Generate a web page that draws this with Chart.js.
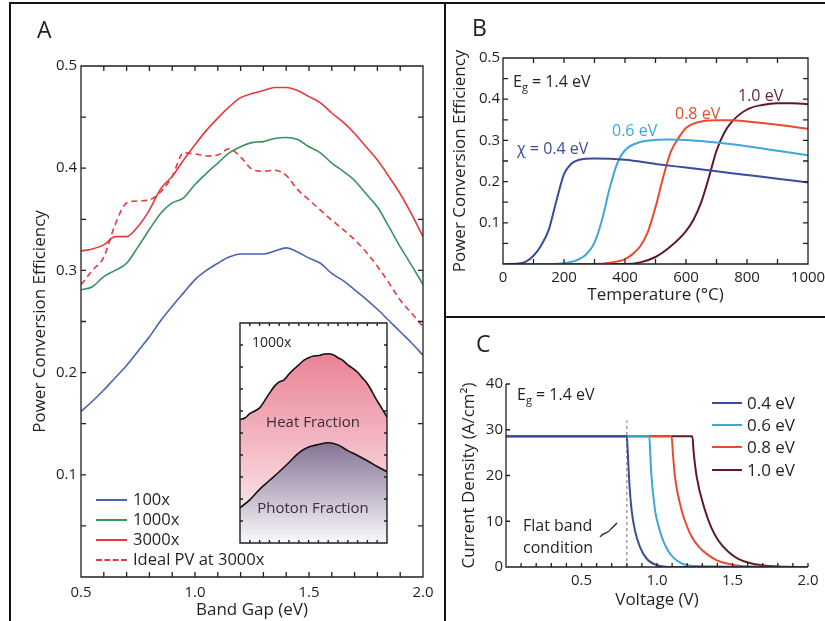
<!DOCTYPE html>
<html>
<head>
<meta charset="utf-8">
<script src="https://cdn.jsdelivr.net/npm/chart.js@4.4.1/dist/chart.umd.min.js"></script>
<style>
  body { margin: 0; background: #fff; }
  #fig { position: relative; width: 825px; height: 621px; overflow: hidden; background: #fff;
         font-family: "Open Sans", sans-serif; color: #231f20; }
  canvas { position: absolute; }
  .ln { position: absolute; background: #111; }
  .txt { position: absolute; white-space: nowrap; line-height: 1; font-size: 15px; }
  .letter { position: absolute; line-height: 1; font-size: 23px; }
  .key { position: absolute; height: 0; border-top: 2px solid; }
  sub { font-size: 11px; vertical-align: -4px; line-height: 0; }
</style>
</head>
<body>
<div id="fig">
  <canvas id="chartA" width="445" height="621" style="left:0;top:0"></canvas>
  <canvas id="inset" width="151" height="224" style="left:238px;top:321px;background:#fff"></canvas>
  <canvas id="chartB" width="400" height="317" style="left:445px;top:0"></canvas>
  <canvas id="chartC" width="400" height="303" style="left:445px;top:318px"></canvas>

  <div class="ln" style="left:10px;top:2px;width:815px;height:2px"></div>
  <div class="ln" style="left:9px;top:2px;width:2px;height:619px"></div>
  <div class="ln" style="left:444px;top:2px;width:2px;height:619px"></div>
  <div class="ln" style="left:444px;top:316px;width:381px;height:2px"></div>

  <div class="letter" style="left:37px;top:18px">A</div>
  <div class="letter" style="left:472px;top:16px">B</div>
  <div class="letter" style="left:476px;top:332px">C</div>

  <!-- panel A legend -->
  <div class="key" style="left:96px;top:499px;width:31px;border-color:#4b63b3"></div>
  <div class="txt" style="left:133px;top:491px;font-size:16.5px">100x</div>
  <div class="key" style="left:96px;top:519px;width:31px;border-color:#37925d"></div>
  <div class="txt" style="left:133px;top:511px;font-size:16.5px">1000x</div>
  <div class="key" style="left:96px;top:539px;width:31px;border-color:#e8383d"></div>
  <div class="txt" style="left:133px;top:531px;font-size:16.5px">3000x</div>
  <div class="key" style="left:96px;top:559px;width:31px;border-color:#e8383d;border-top-style:dashed"></div>
  <div class="txt" style="left:133px;top:551px;font-size:16.5px">Ideal PV at 3000x</div>

  <!-- inset text -->
  <div class="txt" style="left:252px;top:335px;font-size:14px">1000x</div>
  <div class="txt" style="left:313px;top:414px;transform:translateX(-50%);color:#3d2b3a">Heat Fraction</div>
  <div class="txt" style="left:313px;top:500px;transform:translateX(-50%);color:#3d2b3a">Photon Fraction</div>

  <!-- panel B notes -->
  <div class="txt" style="left:513px;top:73px;font-size:16px">E<sub>g</sub> = 1.4 eV</div>
  <div class="txt" style="left:517px;top:140px;font-size:16px;color:#3b4ba0">χ = 0.4 eV</div>
  <div class="txt" style="left:612px;top:122px;font-size:16px;color:#3ea6da">0.6 eV</div>
  <div class="txt" style="left:675px;top:105px;font-size:16px;color:#ec4a2c">0.8 eV</div>
  <div class="txt" style="left:738px;top:87px;font-size:16px;color:#6a1f2c">1.0 eV</div>

  <!-- panel C notes and legend -->
  <div class="txt" style="left:517px;top:386px;font-size:16px">E<sub>g</sub> = 1.4 eV</div>
  <div class="txt" style="left:523px;top:517px;font-size:16px">Flat band</div>
  <div class="txt" style="left:523px;top:539px;font-size:16px">condition</div>
  <svg style="position:absolute;left:0;top:0" width="825" height="621">
    <path d="M600,537 C604,531 607,535 611,529 L617,523" fill="none" stroke="#231f20" stroke-width="1.3"/>
  </svg>
  <div class="key" style="left:712px;top:402px;width:30px;border-color:#3b4ba0"></div>
  <div class="txt" style="left:747px;top:394px;font-size:17px">0.4 eV</div>
  <div class="key" style="left:712px;top:424px;width:30px;border-color:#3ea6da"></div>
  <div class="txt" style="left:747px;top:416px;font-size:17px">0.6 eV</div>
  <div class="key" style="left:712px;top:446px;width:30px;border-color:#ec4a2c"></div>
  <div class="txt" style="left:747px;top:438px;font-size:17px">0.8 eV</div>
  <div class="key" style="left:712px;top:469px;width:30px;border-color:#5e1a2a"></div>
  <div class="txt" style="left:747px;top:461px;font-size:17px">1.0 eV</div>
</div>

<script>
// ---- panel A: efficiency vs band gap ----
const bandGap = [0.5, 0.55, 0.6, 0.65, 0.7, 0.75, 0.8, 0.85, 0.9, 0.95, 1.0, 1.05, 1.1, 1.15, 1.2, 1.25,
                 1.3, 1.35, 1.4, 1.45, 1.5, 1.55, 1.6, 1.65, 1.7, 1.75, 1.8, 1.85, 1.9, 1.95, 2.0];
const eff100x = [0.162, 0.172, 0.183, 0.195, 0.207, 0.221, 0.235, 0.251, 0.265, 0.278, 0.291, 0.300, 0.307, 0.313, 0.316, 0.316,
                 0.316, 0.319, 0.322, 0.318, 0.312, 0.307, 0.297, 0.290, 0.281, 0.272, 0.262, 0.251, 0.240, 0.229, 0.217];
const eff1000x = [0.281, 0.284, 0.294, 0.300, 0.307, 0.323, 0.340, 0.356, 0.366, 0.371, 0.384, 0.395, 0.405, 0.415, 0.421, 0.425,
                  0.426, 0.429, 0.430, 0.428, 0.421, 0.415, 0.405, 0.397, 0.388, 0.375, 0.362, 0.343, 0.323, 0.305, 0.286];
const eff3000x = [0.319, 0.321, 0.325, 0.333, 0.333, 0.343, 0.359, 0.380, 0.392, 0.408, 0.423, 0.437, 0.449, 0.460, 0.469, 0.473,
                  0.476, 0.479, 0.479, 0.476, 0.470, 0.464, 0.454, 0.445, 0.434, 0.421, 0.408, 0.392, 0.375, 0.355, 0.333];
const effIdealPV = [0.286, 0.300, 0.313, 0.345, 0.366, 0.368, 0.369, 0.377, 0.392, 0.415, 0.414, 0.412, 0.413, 0.419, 0.411, 0.399,
                    0.397, 0.398, 0.393, 0.379, 0.369, 0.359, 0.349, 0.340, 0.330, 0.318, 0.304, 0.288, 0.271, 0.258, 0.245];
const aTicksY = [0.1, 0.2, 0.3, 0.4, 0.5];
const aTicksX = [0.5, 1.0, 1.5, 2.0];

// inset: photon part of the 1000x efficiency
const photonGap = [0.5, 0.6, 0.7, 0.8, 0.9, 1.0, 1.1, 1.2, 1.3, 1.4, 1.5, 1.6, 1.7, 1.8, 1.9, 2.0];
const photonFrac = [0.080, 0.098, 0.122, 0.142, 0.162, 0.183, 0.205, 0.218, 0.224, 0.228, 0.223, 0.210, 0.199, 0.187, 0.174, 0.162];

// ---- panel B: efficiency vs temperature ----
const tB04 = [0, 50, 75, 100, 125, 150, 175, 200, 225, 250, 300, 400, 500, 600, 700, 800, 900, 1000];
const eB04 = [0, 0.001, 0.006, 0.020, 0.045, 0.083, 0.153, 0.218, 0.244, 0.253, 0.256, 0.253, 0.243, 0.234, 0.225, 0.216, 0.207, 0.198];
const tB06 = [0, 150, 200, 250, 275, 300, 325, 350, 375, 400, 450, 500, 550, 600, 700, 800, 900, 1000];
const eB06 = [0, 0, 0.002, 0.012, 0.025, 0.052, 0.108, 0.185, 0.245, 0.276, 0.296, 0.301, 0.302, 0.301, 0.295, 0.286, 0.275, 0.264];
const tB08 = [0, 300, 350, 400, 425, 450, 475, 500, 525, 550, 575, 600, 650, 700, 750, 800, 900, 1000];
const eB08 = [0, 0, 0.003, 0.012, 0.024, 0.043, 0.078, 0.138, 0.210, 0.272, 0.305, 0.330, 0.346, 0.349, 0.349, 0.346, 0.338, 0.328];
const tB10 = [0, 400, 450, 500, 550, 600, 625, 650, 675, 700, 725, 750, 800, 850, 900, 950, 1000];
const eB10 = [0, 0, 0.004, 0.017, 0.043, 0.080, 0.108, 0.150, 0.210, 0.275, 0.318, 0.345, 0.375, 0.386, 0.390, 0.390, 0.388];
const bTicksX = [0, 200, 400, 600, 800, 1000];

// ---- panel C: J-V curves ----
const vC04 = [0, 0.80, 0.808, 0.817, 0.832, 0.854, 0.887, 0.932, 1.0, 1.1, 2.0];
const jC04 = [28.6, 28.6, 24.1, 18.2, 12.4, 8.0, 4.4, 1.8, 0.4, 0, 0];
const vC06 = [0, 0.949, 0.955, 0.962, 0.987, 1.01, 1.031, 1.086, 1.15, 1.25, 2.0];
const jC06 = [28.6, 28.6, 25.0, 20.5, 12.4, 9.0, 6.6, 2.9, 1.0, 0.2, 0];
const vC08 = [0, 1.097, 1.105, 1.119, 1.163, 1.2, 1.23, 1.28, 1.34, 1.40, 1.472, 1.6, 2.0];
const jC08 = [28.6, 28.6, 25.0, 19.7, 12.4, 8.8, 6.6, 4.3, 2.6, 1.4, 0.7, 0.1, 0];
const vC10 = [0, 1.234, 1.243, 1.263, 1.318, 1.36, 1.406, 1.47, 1.538, 1.62, 1.69, 1.8, 2.0];
const jC10 = [28.6, 28.6, 25.0, 19.7, 12.4, 8.6, 5.8, 3.4, 1.8, 0.8, 0.4, 0.1, 0];
const flatBandV = 0.8;
const cTicksX = [0.5, 1.0, 1.5, 2.0];

const ink = '#231f20';
Chart.defaults.font.family = "'Open Sans', sans-serif";
Chart.defaults.color = ink;

const pts = (xs, ys) => xs.map((x, i) => ({ x, y: ys[i] }));
const near = (v, list) => list.some(t => Math.abs(t - v) < 1e-6);
const label = (list, digits) => v => near(v, list) ? v.toFixed(digits) : '';

// inward tick marks and the frame, placed with the chart's own scales
const frameTicks = {
  id: 'frameTicks',
  afterDatasetsDraw(chart, args, o) {
    const { ctx, chartArea: a, scales: { x, y } } = chart;
    const L = o.len || 5;
    ctx.save();
    ctx.strokeStyle = ink;
    ctx.lineWidth = o.lw || 1.3;
    ctx.beginPath();
    if (o.box) {
      ctx.rect(a.left, a.top, a.right - a.left, a.bottom - a.top);
    } else {
      ctx.moveTo(a.left, a.top); ctx.lineTo(a.left, a.bottom); ctx.lineTo(a.right, a.bottom);
    }
    x.ticks.forEach(t => {
      const p = x.getPixelForValue(t.value);
      ctx.moveTo(p, a.bottom); ctx.lineTo(p, a.bottom - L);
      if (o.box) { ctx.moveTo(p, a.top); ctx.lineTo(p, a.top + L); }
    });
    y.ticks.forEach(t => {
      const p = y.getPixelForValue(t.value);
      ctx.moveTo(a.left, p); ctx.lineTo(a.left + L, p);
      if (o.box) { ctx.moveTo(a.right, p); ctx.lineTo(a.right - L, p); }
    });
    ctx.stroke();
    ctx.restore();
  }
};

function axis(min, max, step, cb, pad, title, titlePad, size) {
  return {
    type: 'linear', min, max,
    grid: { display: false, drawTicks: false },
    border: { display: false },
    ticks: { stepSize: step, autoSkip: false, maxRotation: 0, padding: pad, font: { size: 15 }, callback: cb },
    title: { display: true, text: title, font: { size: 17 }, padding: titlePad },
    afterFit: s => { if (s.isHorizontal()) s.height = size; else s.width = size; }
  };
}

function line(data, color, width, extra) {
  return Object.assign({ data, borderColor: color, borderWidth: width, pointRadius: 0,
                         cubicInterpolationMode: 'monotone', fill: false }, extra || {});
}

const base = {
  responsive: false, animation: false, events: [],
  plugins: { legend: { display: false }, tooltip: { enabled: false } }
};

// Panel A
new Chart(document.getElementById('chartA'), {
  type: 'line',
  data: { datasets: [
    line(pts(bandGap, effIdealPV), '#e8383d', 1.6, { borderDash: [6, 4] }),
    line(pts(bandGap, eff3000x), '#e8383d', 1.6),
    line(pts(bandGap, eff1000x), '#37925d', 1.6),
    line(pts(bandGap, eff100x), '#4b63b3', 1.6)
  ] },
  options: Object.assign({}, base, {
    layout: { padding: { top: 66, right: 22, bottom: 0, left: 0 } },
    scales: {
      x: axis(0.5, 2.0, 0.1, label(aTicksX, 1), 7, 'Band Gap (eV)', { top: 0, bottom: 1 }, 44),
      y: axis(0, 0.5, 0.05, label(aTicksY, 1), 4, 'Power Conversion Efficiency', { top: 30, bottom: 0 }, 81)
    },
    plugins: Object.assign({}, base.plugins, { frameTicks: { box: true, len: 5 } })
  }),
  plugins: [frameTicks]
});

// Inset of panel A
function vGrad(chart, top, c1, c2) {
  const { ctx, chartArea, scales } = chart;
  if (!chartArea) return c1;
  const g = ctx.createLinearGradient(0, scales.y.getPixelForValue(top), 0, scales.y.getPixelForValue(0));
  g.addColorStop(0, c1);
  g.addColorStop(1, c2);
  return g;
}
const hidden = {
  type: 'linear', grid: { display: false, drawTicks: false }, border: { display: false },
  ticks: { display: false }, afterFit: s => { if (s.isHorizontal()) s.height = 0; else s.width = 0; }
};
new Chart(document.getElementById('inset'), {
  type: 'line',
  data: { datasets: [
    line(pts(photonGap, photonFrac), '#111', 1.6, {
      fill: 'start', backgroundColor: c => vGrad(c.chart, 0.228, '#857395', '#fbfafc') }),
    line(pts(bandGap, eff1000x), '#111', 1.6, {
      fill: 'start', backgroundColor: c => vGrad(c.chart, 0.43, '#ea8296', '#fdf6f7') })
  ] },
  options: Object.assign({}, base, {
    layout: { padding: 2 },
    scales: {
      x: Object.assign({}, hidden, { min: 0.5, max: 2.0, ticks: { display: false, stepSize: 0.1 } }),
      y: Object.assign({}, hidden, { min: 0, max: 0.5, ticks: { display: false, stepSize: 0.05 } })
    },
    plugins: Object.assign({}, base.plugins, { frameTicks: { box: true, len: 3, lw: 1.4 } })
  }),
  plugins: [frameTicks]
});

// Panel B
new Chart(document.getElementById('chartB'), {
  type: 'line',
  data: { datasets: [
    line(pts(tB04, eB04), '#3b4ba0', 2),
    line(pts(tB06, eB06), '#3ea6da', 2),
    line(pts(tB08, eB08), '#ec4a2c', 2),
    line(pts(tB10, eB10), '#5e1a2a', 2)
  ] },
  options: Object.assign({}, base, {
    layout: { padding: { top: 58, right: 37, bottom: 0, left: 0 } },
    scales: {
      x: axis(0, 1000, 100, label(bTicksX, 0), 5, 'Temperature (°C)', { top: 0, bottom: 12 }, 53),
      y: axis(0, 0.5, 0.05, label(aTicksY, 1), 3, 'Power Conversion Efficiency', { top: 5, bottom: 0 }, 58)
    },
    plugins: Object.assign({}, base.plugins, { frameTicks: { box: true, len: 5 } })
  }),
  plugins: [frameTicks]
});

// Panel C
new Chart(document.getElementById('chartC'), {
  type: 'line',
  data: { datasets: [
    line(pts(vC04, jC04), '#3b4ba0', 2),
    line(pts(vC06, jC06), '#3ea6da', 2),
    line(pts(vC08, jC08), '#ec4a2c', 2),
    line(pts(vC10, jC10), '#5e1a2a', 2),
    line(pts([flatBandV, flatBandV], [0, 32]), '#9a9a9a', 1.4, { borderDash: [3, 3], cubicInterpolationMode: 'default' })
  ] },
  options: Object.assign({}, base, {
    layout: { padding: { top: 66, right: 37, bottom: 0, left: 0 } },
    scales: {
      x: axis(0, 2.0, 0.1, label(cTicksX, 1), 5, 'Voltage (V)', { top: 0, bottom: 11 }, 54),
      y: axis(0, 40, 10, v => String(v), 3, 'Current Density (A/cm²)', { top: 14, bottom: 0 }, 61)
    },
    plugins: Object.assign({}, base.plugins, { frameTicks: { box: false, len: 4 } })
  }),
  plugins: [frameTicks]
});
</script>
</body>
</html>
